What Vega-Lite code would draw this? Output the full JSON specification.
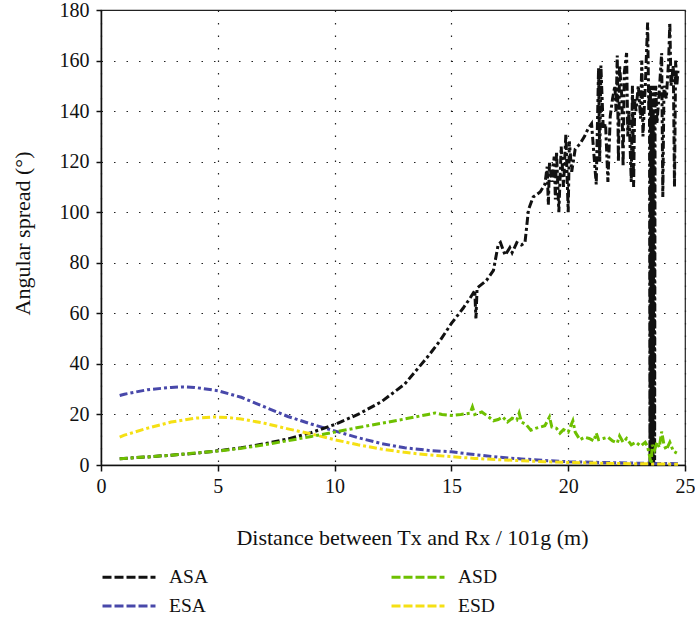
{
  "$schema": "https://vega.github.io/schema/vega-lite/v6.json",
  "autosize": "none",
  "width": 584,
  "height": 455,
  "padding": {"left": 101, "top": 10, "right": 10, "bottom": 157},
  "background": "white",
  "config": {
    "font": "Liberation Serif",
    "view": {"stroke": "#222", "strokeWidth": 1.2},
    "axis": {
      "labelFont": "Liberation Serif",
      "titleFont": "Liberation Serif",
      "labelFontSize": 20,
      "titleFontSize": 22,
      "titleFontWeight": "normal",
      "labelColor": "#111",
      "titleColor": "#111",
      "domainColor": "#111",
      "domainWidth": 1.5,
      "tickColor": "#111",
      "tickWidth": 1.5,
      "grid": true,
      "gridColor": "#222",
      "gridDash": [1.5, 11],
      "gridWidth": 1.2
    }
  },
  "data": {"values": [
    {"s":"ESA","x":0.8,"y":27.5},{"s":"ESA","x":1,"y":28},{"s":"ESA","x":2,"y":29.8},{"s":"ESA","x":3,"y":30.7},{"s":"ESA","x":3.5,"y":30.9},{"s":"ESA","x":4,"y":30.7},{"s":"ESA","x":5,"y":29.4},{"s":"ESA","x":6,"y":26.8},{"s":"ESA","x":7,"y":23},{"s":"ESA","x":8,"y":19.2},{"s":"ESA","x":9,"y":16.2},{"s":"ESA","x":10,"y":13.5},{"s":"ESA","x":11,"y":10.8},{"s":"ESA","x":12,"y":8.5},{"s":"ESA","x":13,"y":6.8},{"s":"ESA","x":14,"y":5.8},{"s":"ESA","x":15,"y":5.2},{"s":"ESA","x":16,"y":4.1},{"s":"ESA","x":17,"y":3.1},{"s":"ESA","x":18,"y":2.4},{"s":"ESA","x":19,"y":1.8},{"s":"ESA","x":20,"y":1.3},{"s":"ESA","x":21,"y":1.1},{"s":"ESA","x":22,"y":0.9},{"s":"ESA","x":23,"y":0.7},{"s":"ESA","x":24,"y":0.6},{"s":"ESA","x":24.7,"y":0.5},
    {"s":"ASA","x":0.8,"y":2.5},{"s":"ASA","x":2,"y":3.2},{"s":"ASA","x":3,"y":3.9},{"s":"ASA","x":4,"y":4.6},{"s":"ASA","x":5,"y":5.6},{"s":"ASA","x":6,"y":6.8},{"s":"ASA","x":7,"y":8.4},{"s":"ASA","x":8,"y":10.3},{"s":"ASA","x":9,"y":12.8},{"s":"ASA","x":10,"y":16},{"s":"ASA","x":11,"y":20},{"s":"ASA","x":12,"y":25},{"s":"ASA","x":13,"y":32},{"s":"ASA","x":14,"y":43},{"s":"ASA","x":14.5,"y":49},{"s":"ASA","x":15,"y":56},{"s":"ASA","x":15.5,"y":62},{"s":"ASA","x":15.8,"y":66},{"s":"ASA","x":16.0,"y":69},{"s":"ASA","x":16.05,"y":58},{"s":"ASA","x":16.1,"y":70},{"s":"ASA","x":16.5,"y":73},{"s":"ASA","x":16.8,"y":77},{"s":"ASA","x":17.0,"y":87},{"s":"ASA","x":17.1,"y":88},{"s":"ASA","x":17.3,"y":83},{"s":"ASA","x":17.5,"y":86},{"s":"ASA","x":17.6,"y":84},{"s":"ASA","x":17.8,"y":88},{"s":"ASA","x":18.0,"y":87},{"s":"ASA","x":18.15,"y":88},{"s":"ASA","x":18.3,"y":101},{"s":"ASA","x":18.5,"y":106},{"s":"ASA","x":18.8,"y":108},{"s":"ASA","x":19.0,"y":111},{"s":"ASA","x":19.1,"y":118},{"s":"ASA","x":19.15,"y":103},{"s":"ASA","x":19.2,"y":120},{"s":"ASA","x":19.3,"y":112},{"s":"ASA","x":19.4,"y":122},{"s":"ASA","x":19.45,"y":105},{"s":"ASA","x":19.5,"y":124},{"s":"ASA","x":19.6,"y":100},{"s":"ASA","x":19.7,"y":126},{"s":"ASA","x":19.8,"y":110},{"s":"ASA","x":19.9,"y":131},{"s":"ASA","x":20.0,"y":100},{"s":"ASA","x":20.05,"y":128},{"s":"ASA","x":20.15,"y":116},{"s":"ASA","x":20.3,"y":125},{"s":"ASA","x":20.5,"y":127},{"s":"ASA","x":20.7,"y":130},{"s":"ASA","x":20.85,"y":133},{"s":"ASA","x":21.0,"y":135},{"s":"ASA","x":21.2,"y":111},{"s":"ASA","x":21.3,"y":157},{"s":"ASA","x":21.35,"y":120},{"s":"ASA","x":21.4,"y":158},{"s":"ASA","x":21.5,"y":133},{"s":"ASA","x":21.6,"y":135},{"s":"ASA","x":21.7,"y":112},{"s":"ASA","x":21.8,"y":138},{"s":"ASA","x":21.9,"y":145},{"s":"ASA","x":22.0,"y":150},{"s":"ASA","x":22.05,"y":140},{"s":"ASA","x":22.1,"y":162},{"s":"ASA","x":22.15,"y":120},{"s":"ASA","x":22.2,"y":158},{"s":"ASA","x":22.3,"y":145},{"s":"ASA","x":22.35,"y":118},{"s":"ASA","x":22.4,"y":155},{"s":"ASA","x":22.5,"y":163},{"s":"ASA","x":22.55,"y":130},{"s":"ASA","x":22.6,"y":140},{"s":"ASA","x":22.7,"y":112},{"s":"ASA","x":22.75,"y":150},{"s":"ASA","x":22.8,"y":110},{"s":"ASA","x":22.85,"y":145},{"s":"ASA","x":22.9,"y":140},{"s":"ASA","x":23.0,"y":150},{"s":"ASA","x":23.1,"y":137},{"s":"ASA","x":23.15,"y":160},{"s":"ASA","x":23.2,"y":130},{"s":"ASA","x":23.3,"y":150},{"s":"ASA","x":23.4,"y":175},{"s":"ASA","x":23.45,"y":140},{"s":"ASA","x":23.48,"y":150},{"s":"ASA","x":23.5,"y":0},{"s":"ASA","x":23.52,"y":148},{"s":"ASA","x":23.54,"y":2},{"s":"ASA","x":23.56,"y":145},{"s":"ASA","x":23.58,"y":0},{"s":"ASA","x":23.6,"y":150},{"s":"ASA","x":23.62,"y":3},{"s":"ASA","x":23.64,"y":140},{"s":"ASA","x":23.66,"y":1},{"s":"ASA","x":23.68,"y":150},{"s":"ASA","x":23.7,"y":2},{"s":"ASA","x":23.72,"y":145},{"s":"ASA","x":23.75,"y":150},{"s":"ASA","x":23.8,"y":135},{"s":"ASA","x":23.9,"y":148},{"s":"ASA","x":24.0,"y":163},{"s":"ASA","x":24.05,"y":106},{"s":"ASA","x":24.1,"y":150},{"s":"ASA","x":24.2,"y":145},{"s":"ASA","x":24.3,"y":160},{"s":"ASA","x":24.35,"y":175},{"s":"ASA","x":24.4,"y":150},{"s":"ASA","x":24.5,"y":158},{"s":"ASA","x":24.55,"y":110},{"s":"ASA","x":24.6,"y":160},{"s":"ASA","x":24.65,"y":150},{"s":"ASA","x":24.7,"y":156},
    {"s":"ESD","x":0.8,"y":11},{"s":"ESD","x":1,"y":11.8},{"s":"ESD","x":2,"y":14.6},{"s":"ESD","x":3,"y":17},{"s":"ESD","x":4,"y":18.5},{"s":"ESD","x":4.8,"y":19},{"s":"ESD","x":5.5,"y":18.7},{"s":"ESD","x":6,"y":18.2},{"s":"ESD","x":7,"y":16.5},{"s":"ESD","x":8,"y":14.3},{"s":"ESD","x":9,"y":12.3},{"s":"ESD","x":10,"y":10},{"s":"ESD","x":11,"y":8},{"s":"ESD","x":12,"y":6.3},{"s":"ESD","x":13,"y":5},{"s":"ESD","x":14,"y":4},{"s":"ESD","x":15,"y":3.3},{"s":"ESD","x":16,"y":2.6},{"s":"ESD","x":17,"y":2.1},{"s":"ESD","x":18,"y":1.7},{"s":"ESD","x":19,"y":1.3},{"s":"ESD","x":20,"y":1},{"s":"ESD","x":21,"y":0.8},{"s":"ESD","x":22,"y":0.6},{"s":"ESD","x":23,"y":0.5},{"s":"ESD","x":24,"y":0.4},{"s":"ESD","x":24.7,"y":0.3},
    {"s":"ASD","x":0.8,"y":2.5},{"s":"ASD","x":2,"y":3.2},{"s":"ASD","x":3,"y":3.9},{"s":"ASD","x":4,"y":4.7},{"s":"ASD","x":5,"y":5.5},{"s":"ASD","x":6,"y":6.6},{"s":"ASD","x":7,"y":8},{"s":"ASD","x":8,"y":9.6},{"s":"ASD","x":9,"y":11.3},{"s":"ASD","x":10,"y":13},{"s":"ASD","x":11,"y":14.8},{"s":"ASD","x":12,"y":16.5},{"s":"ASD","x":13,"y":18.2},{"s":"ASD","x":14,"y":20},{"s":"ASD","x":14.3,"y":20.6},{"s":"ASD","x":14.6,"y":20},{"s":"ASD","x":15,"y":19.6},{"s":"ASD","x":15.4,"y":20},{"s":"ASD","x":15.8,"y":20.5},{"s":"ASD","x":15.9,"y":23},{"s":"ASD","x":16.0,"y":20},{"s":"ASD","x":16.3,"y":21},{"s":"ASD","x":16.6,"y":19},{"s":"ASD","x":16.8,"y":17.5},{"s":"ASD","x":17.0,"y":18},{"s":"ASD","x":17.2,"y":19},{"s":"ASD","x":17.4,"y":17},{"s":"ASD","x":17.6,"y":18.5},{"s":"ASD","x":17.8,"y":17.8},{"s":"ASD","x":17.9,"y":20.5},{"s":"ASD","x":18.0,"y":17},{"s":"ASD","x":18.2,"y":16},{"s":"ASD","x":18.4,"y":13.8},{"s":"ASD","x":18.6,"y":14.5},{"s":"ASD","x":18.8,"y":15},{"s":"ASD","x":19.0,"y":15.5},{"s":"ASD","x":19.2,"y":19},{"s":"ASD","x":19.3,"y":15},{"s":"ASD","x":19.5,"y":14.5},{"s":"ASD","x":19.65,"y":12.6},{"s":"ASD","x":19.8,"y":14},{"s":"ASD","x":20.0,"y":13},{"s":"ASD","x":20.2,"y":17.5},{"s":"ASD","x":20.3,"y":13},{"s":"ASD","x":20.5,"y":10},{"s":"ASD","x":20.7,"y":11},{"s":"ASD","x":20.9,"y":10.5},{"s":"ASD","x":21.1,"y":9.5},{"s":"ASD","x":21.2,"y":12.6},{"s":"ASD","x":21.3,"y":10},{"s":"ASD","x":21.5,"y":10.5},{"s":"ASD","x":21.7,"y":11},{"s":"ASD","x":21.9,"y":9.5},{"s":"ASD","x":22.1,"y":8.7},{"s":"ASD","x":22.2,"y":11.5},{"s":"ASD","x":22.35,"y":9},{"s":"ASD","x":22.5,"y":10.5},{"s":"ASD","x":22.7,"y":8},{"s":"ASD","x":22.9,"y":9},{"s":"ASD","x":23.1,"y":7.5},{"s":"ASD","x":23.3,"y":9},{"s":"ASD","x":23.4,"y":7.3},{"s":"ASD","x":23.55,"y":0.5},{"s":"ASD","x":23.6,"y":8},{"s":"ASD","x":23.7,"y":6},{"s":"ASD","x":23.8,"y":9},{"s":"ASD","x":23.9,"y":7},{"s":"ASD","x":24.0,"y":13.2},{"s":"ASD","x":24.1,"y":8},{"s":"ASD","x":24.2,"y":6},{"s":"ASD","x":24.35,"y":9},{"s":"ASD","x":24.5,"y":5.5},{"s":"ASD","x":24.65,"y":4.7}
  ]},
  "mark": {"type": "line", "strokeWidth": 3, "strokeDash": [8, 3, 3, 3], "interpolate": "linear"},
  "encoding": {
    "x": {"field": "x", "type": "quantitative",
      "scale": {"domain": [0, 25], "nice": false},
      "axis": {"values": [0, 5, 10, 15, 20, 25], "title": "Distance between Tx and Rx / 101g (m)", "labelFlush": false, "tickSize": 6, "labelPadding": 5, "titleY": 72, "titleX": 311, "titleBaseline": "middle"}},
    "y": {"field": "y", "type": "quantitative",
      "scale": {"domain": [0, 180], "nice": false},
      "axis": {"values": [0, 20, 40, 60, 80, 100, 120, 140, 160, 180], "title": "Angular spread (°)", "tickSize": 5, "labelPadding": 7, "titleX": -79, "titleY": 223, "titleBaseline": "middle", "titleAngle": -90}},
    "color": {"field": "s", "type": "nominal",
      "sort": ["ASA", "ASD", "ESA", "ESD"],
      "scale": {"domain": ["ASA", "ASD", "ESA", "ESD"], "range": ["#111111", "#6ec000", "#4848aa", "#f5e014"]},
      "legend": {"title": null, "orient": "none", "legendX": 13, "legendY": 552, "columns": 2, "direction": "horizontal",
        "symbolType": "M-2,0H2", "symbolSize": 702, "symbolStrokeWidth": 3, "symbolDash": [9, 3],
        "labelFont": "Liberation Serif", "labelFontSize": 19.5, "labelColor": "#111", "labelOffset": 25,
        "columnPadding": 176, "rowPadding": 4}}
  }
}
